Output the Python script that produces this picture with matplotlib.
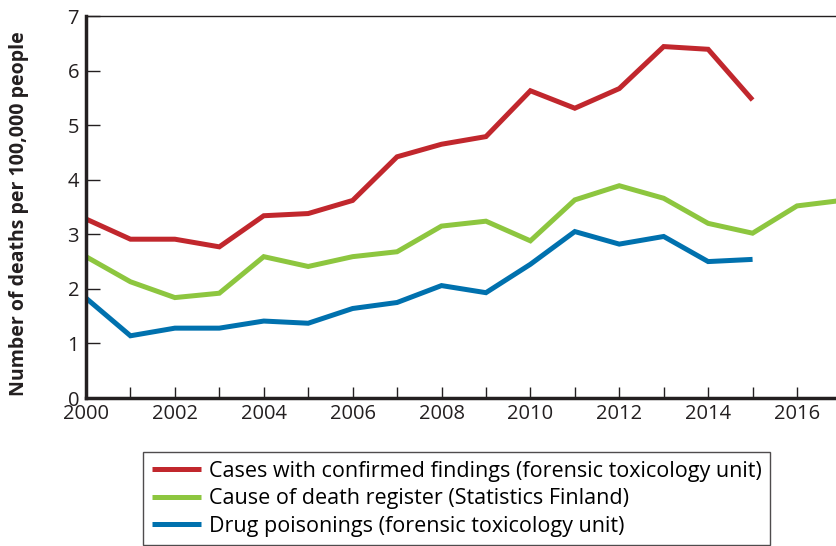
import matplotlib
matplotlib.use("Agg")
import matplotlib.pyplot as plt

plt.rcParams['font.family'] = ['Open Sans', 'DejaVu Sans']

years_all = list(range(2000, 2018))
years_tox = list(range(2000, 2016))

confirmed = [3.28, 2.91, 2.91, 2.77, 3.34, 3.38, 3.62, 4.42, 4.65, 4.79,
             5.63, 5.31, 5.67, 6.44, 6.39, 5.46]
register = [2.59, 2.13, 1.84, 1.92, 2.59, 2.41, 2.59, 2.68, 3.15, 3.24,
            2.88, 3.63, 3.89, 3.66, 3.20, 3.02, 3.52, 3.62]
poisonings = [1.83, 1.14, 1.28, 1.28, 1.41, 1.37, 1.64, 1.75, 2.06, 1.93,
              2.45, 3.05, 2.82, 2.96, 2.50, 2.54]

labels = ["Cases with confirmed findings (forensic toxicology unit)",
          "Cause of death register (Statistics Finland)",
          "Drug poisonings (forensic toxicology unit)"]
colors = ["#C1272D", "#8DC63F", "#0071AE"]

fig = plt.figure(figsize=(8.37, 5.46), dpi=100)
ax = fig.add_axes([86 / 837, 1 - 398 / 546, 1 - 86 / 837, (398 - 16) / 546])

lines = []
for x, y, c, lab in zip([years_tox, years_all, years_tox],
                        [confirmed, register, poisonings], colors, labels):
    ln, = ax.plot(x, y, color=c, lw=3.6, label=lab, solid_capstyle='butt',
                  solid_joinstyle='miter')
    lines.append(ln)

ax.set_xlim(2000, 2016.9)
ax.set_ylim(0, 7)
ax.set_xticks(range(2000, 2017))
ax.set_xticklabels([str(y) if y % 2 == 0 else "" for y in range(2000, 2017)])
ax.set_yticks(range(0, 8))

ax.spines['right'].set_visible(False)
ax.spines['left'].set_linewidth(2.5)
ax.spines['bottom'].set_linewidth(2.5)
ax.spines['top'].set_linewidth(1.0)
for s in ax.spines.values():
    s.set_color('#231F20')

ax.tick_params(axis='y', direction='in', length=10, width=1, labelsize=14.5,
               pad=5, colors='#231F20')
ax.tick_params(axis='x', direction='in', length=8, width=1, labelsize=14.5,
               pad=4, colors='#231F20')

fig.text(19 / 837, 1 - 214 / 546, "Number of deaths per 100,000 people",
         rotation=90, ha='center', va='center', fontsize=14, fontweight='bold',
         color='#231F20')

leg = fig.legend(handles=lines, loc='upper left',
                 bbox_to_anchor=(143 / 837, 1 - 452 / 546), fontsize=15.5,
                 frameon=True, fancybox=False, edgecolor='#231F20',
                 handlelength=2.3, handletextpad=0.35, labelspacing=0.3,
                 borderpad=0.4, borderaxespad=0)
leg.get_frame().set_linewidth(1.0)

fig.savefig("out.png", dpi=100)
